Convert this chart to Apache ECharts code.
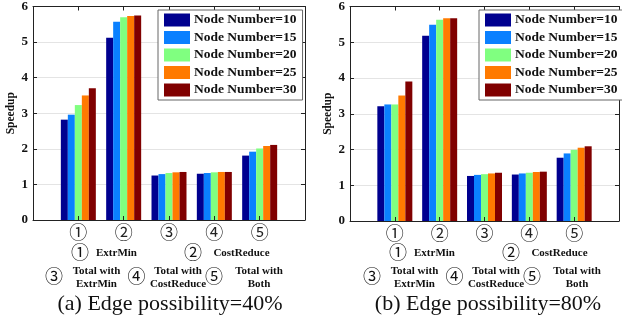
<!DOCTYPE html>
<html>
<head>
<meta charset="utf-8">
<script src="https://cdn.jsdelivr.net/npm/echarts@6/dist/echarts.min.js"></script>
<style>
html,body{margin:0;padding:0;background:#fff;}
#c{width:622px;height:324px;}
</style>
</head>
<body>
<div id="c"></div>
<script>
// ---- data ----
var categories = ['', '\u2460', '\u2461', '\u2462', '\u2463', '\u2464', ''];
var seriesNames = ['Node Number=10', 'Node Number=15', 'Node Number=20', 'Node Number=25', 'Node Number=30'];
var seriesColors = ['#00008F', '#0A80FF', '#80FF80', '#FF7A00', '#800000'];
var yTicks = [0, 1, 2, 3, 4, 5, 6];

// (a) Edge possibility = 40%
var a_n10 = [2.82, 5.12, 1.25, 1.30, 1.81];
var a_n15 = [2.96, 5.57, 1.29, 1.32, 1.92];
var a_n20 = [3.23, 5.70, 1.32, 1.34, 2.01];
var a_n25 = [3.50, 5.73, 1.34, 1.35, 2.08];
var a_n30 = [3.70, 5.75, 1.35, 1.35, 2.11];

// (b) Edge possibility = 80%
var b_n10 = [3.21, 5.18, 1.26, 1.30, 1.77];
var b_n15 = [3.26, 5.49, 1.29, 1.33, 1.89];
var b_n20 = [3.26, 5.63, 1.31, 1.35, 1.99];
var b_n25 = [3.51, 5.67, 1.33, 1.37, 2.05];
var b_n30 = [3.90, 5.67, 1.35, 1.38, 2.09];

var captions = ['(a) Edge possibility=40%', '(b) Edge possibility=80%'];

// ---- build ----
var chart = echarts.init(document.getElementById('c'), null, {renderer: 'canvas'});
var serif = "'Liberation Serif', 'Times New Roman', serif";
var cjk = "'Noto Sans CJK SC', 'DejaVu Sans', sans-serif";
var axisColor = '#222';

var panels = [
  {left: 33, top: 6, width: 272, height: 214, data: [a_n10, a_n15, a_n20, a_n25, a_n30], legendLeft: 158, off: 0},
  {left: 350, top: 6, width: 272, height: 215, data: [b_n10, b_n15, b_n20, b_n25, b_n30], legendLeft: 479, off: 318}
];

var grids = [], xAxes = [], yAxes = [], series = [], legends = [], graphics = [];

panels.forEach(function (p, pi) {
  grids.push({left: p.left, top: p.top, width: p.width, height: p.height, containLabel: false});
  // bottom x axis
  xAxes.push({
    type: 'category', gridIndex: pi, data: categories, boundaryGap: false, position: 'bottom',
    axisLine: {show: true, lineStyle: {color: axisColor, width: 1}},
    axisTick: {show: true, inside: true, length: 4, lineStyle: {color: axisColor}},
    axisLabel: {show: true, interval: 0, fontFamily: cjk, fontSize: 18, color: '#222', margin: 3},
    splitLine: {show: false}, z: 5
  });
  // top x axis (box)
  xAxes.push({
    type: 'category', gridIndex: pi, data: categories, boundaryGap: false, position: 'top',
    axisLine: {show: true, onZero: false, lineStyle: {color: axisColor, width: 1}},
    axisTick: {show: true, inside: true, length: 4, lineStyle: {color: axisColor}},
    axisLabel: {show: false}, splitLine: {show: false}
  });
  // left y axis
  yAxes.push({
    type: 'value', gridIndex: pi, min: yTicks[0], max: yTicks[yTicks.length - 1], interval: 1, position: 'left',
    name: 'Speedup', nameLocation: 'middle', nameRotate: 90, nameGap: 16,
    nameTextStyle: {fontFamily: serif, fontWeight: 'bold', fontSize: 11.5, color: '#111'},
    axisLine: {show: true, lineStyle: {color: axisColor, width: 1}},
    axisTick: {show: true, inside: true, length: 4, lineStyle: {color: axisColor}},
    axisLabel: {fontFamily: serif, fontWeight: 'bold', fontSize: 13, color: '#111', margin: 5},
    splitLine: {show: true, lineStyle: {color: '#e4e4e4', width: 1}}
  });
  // right y axis (box)
  yAxes.push({
    type: 'value', gridIndex: pi, min: yTicks[0], max: yTicks[yTicks.length - 1], interval: 1, position: 'right',
    axisLine: {show: true, onZero: false, lineStyle: {color: axisColor, width: 1}},
    axisTick: {show: true, inside: true, length: 4, lineStyle: {color: axisColor}},
    axisLabel: {show: false}, splitLine: {show: false}
  });
  p.data.forEach(function (vals, si) {
    series.push({
      type: 'bar', name: seriesNames[si],
      xAxisIndex: pi * 2, yAxisIndex: pi * 2,
      data: [null].concat(vals).concat([null]),
      barWidth: 7, barGap: '0%',
      itemStyle: {color: seriesColors[si]},
      emphasis: {disabled: true},
      animation: false
    });
  });
  legends.push({
    show: true, orient: 'vertical', left: p.legendLeft, top: 10,
    data: seriesNames, selectedMode: false, icon: 'rect',
    itemWidth: 26, itemHeight: 13, itemGap: 3.5,
    padding: [3, 6, 3, 6],
    backgroundColor: '#fff', borderColor: '#666', borderWidth: 1, borderRadius: 0,
    textStyle: {fontFamily: serif, fontWeight: 'bold', fontSize: 13.5, color: '#111', padding: [0, 0, 0, -1]},
    z: 10
  });

  var o = p.off;
  function txt(x, y, s, opt) {
    opt = opt || {};
    graphics.push({
      type: 'text', z: 20,
      style: {
        x: x + o, y: y, text: s,
        fill: '#111',
        font: opt.font,
        align: 'center', verticalAlign: 'middle',
        textAlign: 'center', textVerticalAlign: 'middle',
        lineHeight: opt.lh || undefined
      }
    });
  }
  var circ = 'normal 18px ' + cjk;
  var small = 'bold 11px ' + serif;
  // legend of categories
  txt(80, 252.5, categories[1], {font: circ});
  txt(116.5, 253, 'ExtrMin', {font: small});
  txt(193, 252.5, categories[2], {font: circ});
  txt(241.5, 253, 'CostReduce', {font: small});
  txt(54, 276.5, categories[3], {font: circ});
  txt(96.5, 277.5, 'Total with\nExtrMin', {font: small, lh: 13.4});
  txt(136.5, 276.5, categories[4], {font: circ});
  txt(178, 277.5, 'Total with\nCostReduce', {font: small, lh: 13.4});
  txt(214, 276.5, categories[5], {font: circ});
  txt(259, 277.5, 'Total with\nBoth', {font: small, lh: 13.4});
  txt(170, 304, captions[pi], {font: 'normal 22px ' + serif});
});

chart.setOption({
  backgroundColor: '#fff',
  animation: false,
  grid: grids,
  xAxis: xAxes,
  yAxis: yAxes,
  legend: legends,
  series: series,
  graphic: graphics
});
</script>
</body>
</html>
